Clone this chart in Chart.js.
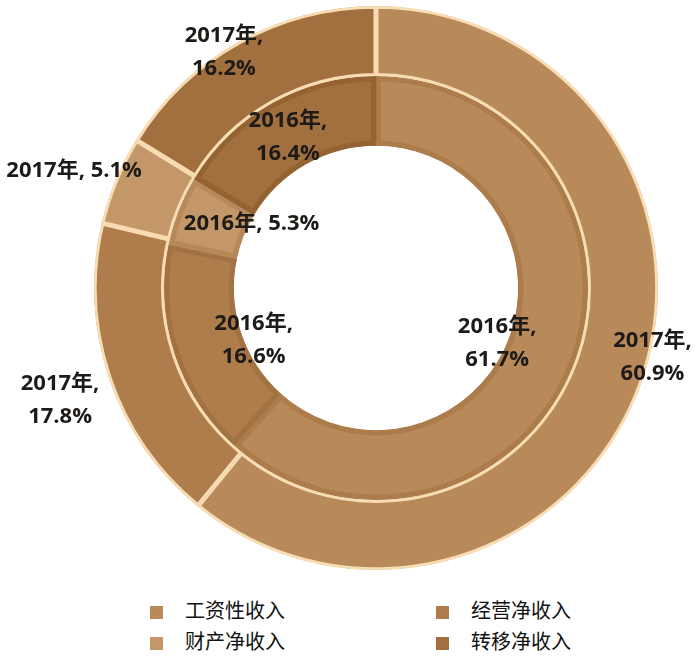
<!DOCTYPE html>
<html>
<head>
<meta charset="utf-8">
<script src="https://cdn.jsdelivr.net/npm/chart.js@4.4.1/dist/chart.umd.min.js"></script>
<style>
  body { margin: 0; background: #fff; }
  #wrap { position: relative; width: 700px; height: 658px; }
  #box { position: absolute; left: 0; top: 0; width: 700px; height: 572px; }
  #legend { position: absolute; left: 0; top: 595px; width: 700px;
            font-family: "Noto Sans CJK SC", sans-serif; font-size: 20px; color: #111; }
  .item { position: absolute; height: 30px; line-height: 30px; white-space: nowrap; }
  .sw { display: inline-block; width: 13px; height: 13px; margin-right: 22px; vertical-align: -1px; }
</style>
</head>
<body>
<div id="wrap">
  <div id="box"><canvas id="donut"></canvas></div>
  <div id="legend"></div>
</div>
<script>
// 收入构成
const categories = ['工资性收入', '经营净收入', '财产净收入', '转移净收入'];
const years = ['2017', '2016'];           // 外圈 2017, 内圈 2016
const values2017 = [60.9, 17.8, 5.1, 16.2];
const values2016 = [61.7, 16.6, 5.3, 16.4];

const colors = ['#B98A59', '#AF7D4C', '#C39767', '#A2703E'];
const innerBorders = ['#AC7C4A', '#A37243', '#B6895A', '#956331'];

// 标签位置（半径, 角度修正）
const labelPos = [
  [{ r: 285, da: -5.6, one: false }, { r: 335, da: -0.7, one: false }, { r: 324, da: -1.2, one: true }, { r: 281, da: -3.6, one: false }],
  [{ r: 133, da: 3.3, one: false }, { r: 133, da: -5.1, one: false }, { r: 140, da: 5.9, one: true }, { r: 175, da: -0.7, one: false }]
];

const labelPlugin = {
  id: 'ringLabels',
  afterDatasetsDraw(chart) {
    const ctx = chart.ctx;
    ctx.save();
    ctx.font = 'bold 22px "Open Sans", "Noto Sans CJK SC", sans-serif';
    ctx.fillStyle = '#1d1a17';
    ctx.textAlign = 'center';
    ctx.textBaseline = 'middle';
    chart.data.datasets.forEach((ds, di) => {
      chart.getDatasetMeta(di).data.forEach((arc, i) => {
        const p = arc.getProps(['x', 'y', 'startAngle', 'endAngle'], true);
        const pos = labelPos[di][i];
        const a = (p.startAngle + p.endAngle) / 2 + pos.da * Math.PI / 180;
        const x = p.x + pos.r * Math.cos(a);
        const y = p.y + pos.r * Math.sin(a);
        const head = years[di] + '年,';
        const val = ds.data[i].toFixed(1) + '%';
        if (pos.one) {
          ctx.fillText(head + ' ' + val, x, y);
        } else {
          ctx.fillText(head, x, y - 16);
          ctx.fillText(val, x, y + 17);
        }
      });
    });
    ctx.restore();
  }
};

new Chart(document.getElementById('donut'), {
  type: 'doughnut',
  data: {
    labels: categories,
    datasets: [
      {
        label: years[0],
        data: values2017,
        backgroundColor: colors,
        borderColor: '#F8DCB3',
        borderWidth: 2.5,
        borderAlign: 'inner'
      },
      {
        label: years[1],
        data: values2016,
        backgroundColor: colors,
        borderColor: innerBorders,
        borderWidth: 5,
        borderAlign: 'inner'
      }
    ]
  },
  options: {
    responsive: true,
    maintainAspectRatio: false,
    animation: false,
    radius: 282,
    cutout: '50.4%',
    layout: { padding: { left: 52, top: 4, bottom: 0, right: 0 } },
    plugins: { legend: { display: false }, tooltip: { enabled: false } }
  },
  plugins: [labelPlugin]
});

// 图例
const legend = document.getElementById('legend');
const legendX = [150, 436];
categories.forEach((c, i) => {
  const el = document.createElement('div');
  el.className = 'item';
  el.style.left = legendX[i % 2] + 'px';
  el.style.top = (Math.floor(i / 2) * 31) + 'px';
  el.innerHTML = '<span class="sw" style="background:' + colors[i] + '"></span>' + c;
  legend.appendChild(el);
});
</script>
</body>
</html>
